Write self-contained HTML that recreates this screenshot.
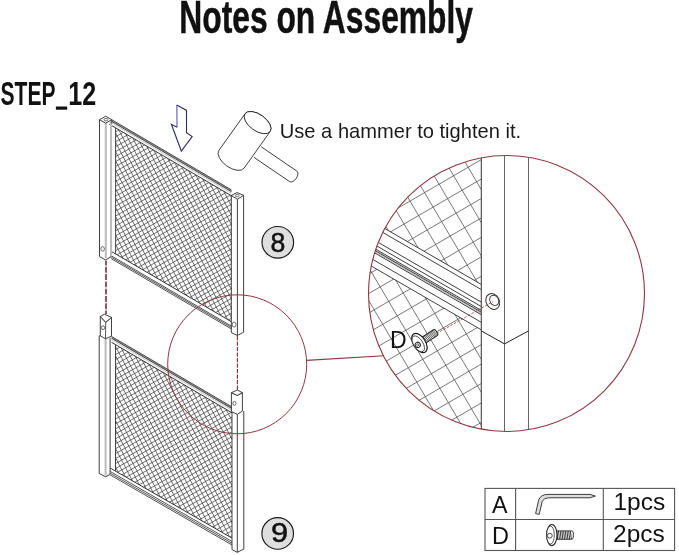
<!DOCTYPE html>
<html><head><meta charset="utf-8"><style>
html,body{margin:0;padding:0;background:#fff;width:679px;height:555px;overflow:hidden}
svg{display:block}
</style></head><body>
<svg width="679" height="555" viewBox="0 0 679 555" style="will-change:transform">
<defs><clipPath id="cU"><polygon points="115.60,127.99 231.50,195.90 231.50,321.73 115.60,253.93"/></clipPath><clipPath id="cL"><polygon points="115.50,344.74 232.00,412.89 232.00,538.09 115.50,471.10"/></clipPath><clipPath id="cB"><circle cx="506.5" cy="293.5" r="138.0"/></clipPath><clipPath id="cBm"><path d="M368.5,155.5H481.3V431.5H368.5Z"/></clipPath><clipPath id="cBa"><polygon points="360.00,140.00 481.30,140.00 481.30,286.45 360.00,216.10"/></clipPath><clipPath id="cBb"><polygon points="360.00,254.10 481.30,324.45 481.30,440.00 360.00,440.00"/></clipPath></defs>
<rect width="679" height="555" fill="#fff"/>
<rect x="55.9" y="106.5" width="11.3" height="3.2" fill="#111"/>
<polyline points="177.00,127.20 176.80,105.10" stroke="#7d7dd0" stroke-width="1.4" fill="none"/>
<polyline points="176.80,105.10 186.50,110.40 186.50,132.70 192.20,136.60 181.30,151.00 171.40,124.30 177.00,127.20" stroke="#2d2d6e" stroke-width="1.1" fill="none" stroke-linejoin="miter"/>
<path d="M261.13,146.73 L296.93,171.13 A6.4 3.6 124.6 0 1 289.67,181.67 L253.87,157.27" fill="#fff" stroke="#2a2a2a" stroke-width="0.9"/>
<path d="M245.05,113.67 L218.95,150.35 A15.4 8.2 35.44 0 0 244.05,168.20 L270.15,131.53 A15.4 8.2 35.44 0 0 245.05,113.67Z" fill="#fff" stroke="#2a2a2a" stroke-width="0.9"/>
<ellipse cx="257.6" cy="122.6" rx="15.4" ry="8.2" transform="rotate(35.44 257.6 122.6)" fill="#fff" stroke="#2a2a2a" stroke-width="0.9"/>
<path d="M-5.02,170.93L218.48,43.45M-2.89,174.67L220.61,47.19M-0.76,178.40L222.74,50.92M1.37,182.14L224.87,54.66M3.50,185.87L227.00,58.39M5.64,189.61L229.13,62.13M7.77,193.34L231.26,65.86M9.90,197.08L233.39,69.60M12.03,200.81L235.52,73.34M14.16,204.55L237.65,77.07M16.29,208.29L239.78,80.81M18.42,212.02L241.91,84.54M20.55,215.76L244.04,88.28M22.68,219.49L246.17,92.01M24.81,223.23L248.31,95.75M26.94,226.96L250.44,99.48M29.07,230.70L252.57,103.22M31.20,234.43L254.70,106.95M33.33,238.17L256.83,110.69M35.46,241.90L258.96,114.42M37.59,245.64L261.09,118.16M39.72,249.37L263.22,121.89M41.85,253.11L265.35,125.63M43.98,256.84L267.48,129.36M46.11,260.58L269.61,133.10M48.24,264.31L271.74,136.83M50.37,268.05L273.87,140.57M52.51,271.78L276.00,144.30M54.64,275.52L278.13,148.04M56.77,279.25L280.26,151.77M58.90,282.99L282.39,155.51M61.03,286.72L284.52,159.24M63.16,290.46L286.65,162.98M65.29,294.19L288.78,166.71M67.42,297.93L290.91,170.45M69.55,301.66L293.05,174.18M71.68,305.40L295.18,177.92M73.81,309.13L297.31,181.65M75.94,312.87L299.44,185.39M78.07,316.60L301.57,189.12M80.20,320.34L303.70,192.86M82.33,324.07L305.83,196.59M84.46,327.81L307.96,200.33M86.59,331.54L310.09,204.06M88.72,335.28L312.22,207.80M90.85,339.01L314.35,211.53M92.98,342.75L316.48,215.27M95.11,346.48L318.61,219.00M97.25,350.22L320.74,222.74M99.38,353.95L322.87,226.47M101.51,357.69L325.00,230.21M103.64,361.42L327.13,233.95M105.77,365.16L329.26,237.68M107.90,368.90L331.39,241.42M110.03,372.63L333.52,245.15M112.16,376.37L335.65,248.89M114.29,380.10L337.79,252.62M116.42,383.84L339.92,256.36M118.55,387.57L342.05,260.09M120.68,391.31L344.18,263.83M122.81,395.04L346.31,267.56M124.94,398.78L348.44,271.30M127.07,402.51L350.57,275.03M230.69,46.91L349.89,274.93M226.88,48.90L346.08,276.92M223.07,50.90L342.27,278.91M219.26,52.89L338.46,280.91M215.45,54.88L334.65,282.90M211.64,56.87L330.84,284.89M207.83,58.86L327.03,286.88M204.01,60.86L323.22,288.87M200.20,62.85L319.41,290.87M196.39,64.84L315.60,292.86M192.58,66.83L311.79,294.85M188.77,68.83L307.98,296.84M184.96,70.82L304.17,298.83M181.15,72.81L300.35,300.83M177.34,74.80L296.54,302.82M173.53,76.79L292.73,304.81M169.72,78.79L288.92,306.80M165.91,80.78L285.11,308.80M162.10,82.77L281.30,310.79M158.29,84.76L277.49,312.78M154.48,86.76L273.68,314.77M150.66,88.75L269.87,316.76M146.85,90.74L266.06,318.76M143.04,92.73L262.25,320.75M139.23,94.72L258.44,322.74M135.42,96.72L254.63,324.73M131.61,98.71L250.82,326.73M127.80,100.70L247.01,328.72M123.99,102.69L243.19,330.71M120.18,104.68L239.38,332.70M116.37,106.68L235.57,334.69M112.56,108.67L231.76,336.69M108.75,110.66L227.95,338.68M104.94,112.65L224.14,340.67M101.13,114.65L220.33,342.66M97.32,116.64L216.52,344.65M93.50,118.63L212.71,346.65M89.69,120.62L208.90,348.64M85.88,122.61L205.09,350.63M82.07,124.61L201.28,352.62M78.26,126.60L197.47,354.62M74.45,128.59L193.66,356.61M70.64,130.58L189.85,358.60M66.83,132.57L186.03,360.59M63.02,134.57L182.22,362.58M59.21,136.56L178.41,364.58M55.40,138.55L174.60,366.57M51.59,140.54L170.79,368.56M47.78,142.54L166.98,370.55M43.97,144.53L163.17,372.55M40.16,146.52L159.36,374.54M36.34,148.51L155.55,376.53M32.53,150.50L151.74,378.52M28.72,152.50L147.93,380.51M24.91,154.49L144.12,382.51M21.10,156.48L140.31,384.50M17.29,158.47L136.50,386.49M13.48,160.47L132.69,388.48M9.67,162.46L128.87,390.47M5.86,164.45L125.06,392.47M2.05,166.44L121.25,394.46M-1.76,168.43L117.44,396.45M-5.57,170.43L113.63,398.44" stroke="#404040" stroke-width="0.75" fill="none" clip-path="url(#cU)"/>
<polygon points="111.70,119.70 231.50,189.90 231.50,191.70 111.70,121.50" fill="#999"/>
<line x1="111.70" y1="119.70" x2="231.50" y2="189.90" stroke="#2a2a2a" stroke-width="0.8" />
<line x1="111.70" y1="121.50" x2="231.50" y2="191.70" stroke="#2a2a2a" stroke-width="0.8" />
<line x1="109.20" y1="121.60" x2="231.50" y2="193.30" stroke="#999" stroke-width="0.6" />
<line x1="109.20" y1="124.10" x2="231.50" y2="195.80" stroke="#333" stroke-width="1.0" />
<line x1="111.30" y1="251.41" x2="231.50" y2="321.73" stroke="#333" stroke-width="1.0" />
<line x1="111.30" y1="255.81" x2="231.50" y2="326.13" stroke="#2a2a2a" stroke-width="0.8" />
<line x1="111.30" y1="257.21" x2="231.50" y2="327.53" stroke="#2a2a2a" stroke-width="0.8" />
<line x1="111.30" y1="258.71" x2="231.50" y2="329.03" stroke="#2a2a2a" stroke-width="0.8" />
<line x1="115.60" y1="127.99" x2="115.60" y2="253.93" stroke="#444" stroke-width="1.0" />
<rect x="104.8" y="123" width="2.0" height="135" fill="#bbb"/>
<rect x="110.0" y="121" width="2.0" height="136" fill="#bbb"/>
<polyline points="99.50,119.70 99.50,256.60 105.60,259.90 111.40,256.60" fill="none" stroke="#2a2a2a" stroke-width="0.9" stroke-linejoin="round" />
<line x1="111.70" y1="119.70" x2="111.70" y2="123.50" stroke="#2a2a2a" stroke-width="0.8" />
<polygon points="99.50,119.70 105.70,116.20 111.70,119.70 105.70,123.20" fill="#fff" stroke="#2a2a2a" stroke-width="0.9" stroke-linejoin="round" />
<ellipse cx="106" cy="119.7" rx="1.9" ry="1.3" fill="none" stroke="#333" stroke-width="0.7"/>
<ellipse cx="102.6" cy="248.9" rx="1.8" ry="2.3" fill="none" stroke="#333" stroke-width="0.7"/>
<polygon points="231.30,195.50 236.90,192.60 243.60,195.30 237.40,199.30" fill="#fff" stroke="#2a2a2a" stroke-width="0.9" stroke-linejoin="round" />
<ellipse cx="237.2" cy="195.6" rx="1.9" ry="1.25" fill="none" stroke="#333" stroke-width="0.7"/>
<polyline points="231.30,195.50 231.30,332.60 237.30,335.50 243.60,332.20 243.60,195.30" fill="none" stroke="#2a2a2a" stroke-width="0.9" stroke-linejoin="round" />
<line x1="237.40" y1="199.30" x2="237.40" y2="335.50" stroke="#2a2a2a" stroke-width="0.9" />
<ellipse cx="234.1" cy="324.6" rx="1.9" ry="2.5" fill="none" stroke="#333" stroke-width="0.7"/>
<path d="M-8.90,386.01L218.37,256.38M-6.77,389.74L220.50,260.12M-4.63,393.48L222.63,263.85M-2.50,397.21L224.76,267.59M-0.37,400.95L226.89,271.32M1.76,404.69L229.02,275.06M3.89,408.42L231.15,278.79M6.02,412.16L233.28,282.53M8.15,415.89L235.41,286.26M10.28,419.63L237.54,290.00M12.41,423.36L239.67,293.73M14.54,427.10L241.80,297.47M16.67,430.83L243.93,301.20M18.80,434.57L246.06,304.94M20.93,438.30L248.19,308.67M23.06,442.04L250.32,312.41M25.19,445.77L252.45,316.14M27.32,449.51L254.58,319.88M29.45,453.24L256.71,323.61M31.58,456.98L258.84,327.35M33.71,460.71L260.98,331.08M35.84,464.45L263.11,334.82M37.97,468.18L265.24,338.55M40.11,471.92L267.37,342.29M42.24,475.65L269.50,346.02M44.37,479.39L271.63,349.76M46.50,483.12L273.76,353.49M48.63,486.86L275.89,357.23M50.76,490.59L278.02,360.97M52.89,494.33L280.15,364.70M55.02,498.06L282.28,368.44M57.15,501.80L284.41,372.17M59.28,505.53L286.54,375.91M61.41,509.27L288.67,379.64M63.54,513.00L290.80,383.38M65.67,516.74L292.93,387.11M67.80,520.47L295.06,390.85M69.93,524.21L297.19,394.58M72.06,527.94L299.32,398.32M74.19,531.68L301.45,402.05M76.32,535.41L303.58,405.79M78.45,539.15L305.72,409.52M80.58,542.88L307.85,413.26M82.71,546.62L309.98,416.99M84.85,550.35L312.11,420.73M86.98,554.09L314.24,424.46M89.11,557.82L316.37,428.20M91.24,561.56L318.50,431.93M93.37,565.30L320.63,435.67M95.50,569.03L322.76,439.40M97.63,572.77L324.89,443.14M99.76,576.50L327.02,446.87M101.89,580.24L329.15,450.61M104.02,583.97L331.28,454.34M106.15,587.71L333.41,458.08M108.28,591.44L335.54,461.81M110.41,595.18L337.67,465.55M112.54,598.91L339.80,469.28M114.67,602.65L341.93,473.02M116.80,606.38L344.06,476.75M118.93,610.12L346.19,480.49M121.06,613.85L348.32,484.22M123.19,617.59L350.46,487.96M125.32,621.32L352.59,491.69M127.45,625.06L354.72,495.43M235.15,259.63L356.36,491.49M231.34,261.63L352.55,493.48M227.53,263.62L348.74,495.48M223.72,265.61L344.93,497.47M219.91,267.60L341.12,499.46M216.10,269.59L337.31,501.45M212.29,271.59L333.50,503.45M208.48,273.58L329.69,505.44M204.66,275.57L325.88,507.43M200.85,277.56L322.07,509.42M197.04,279.56L318.26,511.41M193.23,281.55L314.45,513.41M189.42,283.54L310.63,515.40M185.61,285.53L306.82,517.39M181.80,287.52L303.01,519.38M177.99,289.52L299.20,521.38M174.18,291.51L295.39,523.37M170.37,293.50L291.58,525.36M166.56,295.49L287.77,527.35M162.75,297.48L283.96,529.34M158.94,299.48L280.15,531.34M155.13,301.47L276.34,533.33M151.32,303.46L272.53,535.32M147.50,305.45L268.72,537.31M143.69,307.45L264.91,539.30M139.88,309.44L261.10,541.30M136.07,311.43L257.29,543.29M132.26,313.42L253.47,545.28M128.45,315.41L249.66,547.27M124.64,317.41L245.85,549.27M120.83,319.40L242.04,551.26M117.02,321.39L238.23,553.25M113.21,323.38L234.42,555.24M109.40,325.38L230.61,557.23M105.59,327.37L226.80,559.23M101.78,329.36L222.99,561.22M97.97,331.35L219.18,563.21M94.16,333.34L215.37,565.20M90.34,335.34L211.56,567.20M86.53,337.33L207.75,569.19M82.72,339.32L203.94,571.18M78.91,341.31L200.13,573.17M75.10,343.30L196.31,575.16M71.29,345.30L192.50,577.16M67.48,347.29L188.69,579.15M63.67,349.28L184.88,581.14M59.86,351.27L181.07,583.13M56.05,353.27L177.26,585.12M52.24,355.26L173.45,587.12M48.43,357.25L169.64,589.11M44.62,359.24L165.83,591.10M40.81,361.23L162.02,593.09M36.99,363.23L158.21,595.09M33.18,365.22L154.40,597.08M29.37,367.21L150.59,599.07M25.56,369.20L146.78,601.06M21.75,371.20L142.97,603.05M17.94,373.19L139.15,605.05M14.13,375.18L135.34,607.04M10.32,377.17L131.53,609.03M6.51,379.16L127.72,611.02M2.70,381.16L123.91,613.02M-1.11,383.15L120.10,615.01M-4.92,385.14L116.29,617.00M-8.73,387.13L112.48,618.99" stroke="#404040" stroke-width="0.75" fill="none" clip-path="url(#cL)"/>
<polygon points="111.50,336.40 232.00,406.89 232.00,408.69 111.50,338.20" fill="#999"/>
<line x1="111.50" y1="336.40" x2="232.00" y2="406.89" stroke="#2a2a2a" stroke-width="0.8" />
<line x1="111.50" y1="338.20" x2="232.00" y2="408.69" stroke="#2a2a2a" stroke-width="0.8" />
<line x1="111.50" y1="339.80" x2="232.00" y2="410.29" stroke="#999" stroke-width="0.6" />
<line x1="111.50" y1="342.30" x2="232.00" y2="412.79" stroke="#333" stroke-width="1.0" />
<line x1="110.20" y1="468.05" x2="232.00" y2="538.09" stroke="#333" stroke-width="1.0" />
<line x1="110.20" y1="471.45" x2="232.00" y2="541.49" stroke="#2a2a2a" stroke-width="0.8" />
<line x1="110.20" y1="473.25" x2="232.00" y2="543.29" stroke="#2a2a2a" stroke-width="0.8" />
<line x1="110.20" y1="474.95" x2="232.00" y2="544.99" stroke="#2a2a2a" stroke-width="0.8" />
<line x1="115.50" y1="344.74" x2="115.50" y2="471.10" stroke="#444" stroke-width="1.0" />
<rect x="104.6" y="338.5" width="2.0" height="137" fill="#bbb"/>
<polyline points="99.20,335.80 99.20,473.50 105.60,476.80 110.10,474.30 110.10,338.00" fill="none" stroke="#2a2a2a" stroke-width="0.9" stroke-linejoin="round" />
<line x1="99.20" y1="335.80" x2="100.30" y2="335.80" stroke="#2a2a2a" stroke-width="0.8" />
<polygon points="100.30,316.40 100.30,335.80 105.40,338.70 111.50,336.20 111.50,317.40 105.70,322.30" fill="#fff" stroke="#2a2a2a" stroke-width="0.9" stroke-linejoin="round" />
<polygon points="100.30,316.40 104.60,314.20 111.50,317.40 105.70,322.30" fill="#fff" stroke="#2a2a2a" stroke-width="0.9" stroke-linejoin="round" />
<line x1="105.70" y1="322.30" x2="105.50" y2="338.70" stroke="#2a2a2a" stroke-width="0.8" />
<ellipse cx="103.0" cy="327.7" rx="1.6" ry="2.0" fill="none" stroke="#333" stroke-width="0.7"/>
<polyline points="232.00,411.60 232.00,549.60 237.30,552.30 243.80,549.10 243.80,411.10" fill="none" stroke="#2a2a2a" stroke-width="0.9" stroke-linejoin="round" />
<line x1="237.30" y1="414.30" x2="237.30" y2="552.30" stroke="#2a2a2a" stroke-width="0.9" />
<polygon points="231.40,392.70 231.40,411.60 237.30,414.30 242.40,411.10 242.40,392.70 237.30,395.40" fill="#fff" stroke="#2a2a2a" stroke-width="0.9" stroke-linejoin="round" />
<polygon points="231.40,392.70 237.30,390.00 242.40,392.70 237.30,395.40" fill="#fff" stroke="#2a2a2a" stroke-width="0.9" stroke-linejoin="round" />
<ellipse cx="234.4" cy="403.3" rx="1.6" ry="2.0" fill="none" stroke="#333" stroke-width="0.7"/>
<line x1="106.00" y1="260.50" x2="106.00" y2="314.00" stroke="#6a2830" stroke-width="1.5" stroke-dasharray="5.9 1.4" stroke-dashoffset="1"/>
<line x1="237.40" y1="336.00" x2="237.40" y2="390.00" stroke="#8a3440" stroke-width="1.15" stroke-dasharray="4.2 1.3"/>
<circle cx="237.2" cy="364.3" r="69.5" fill="none" stroke="#8e3840" stroke-width="1.0"/>
<line x1="306.40" y1="360.40" x2="384.00" y2="355.80" stroke="#8e3840" stroke-width="1.1" />
<g clip-path="url(#cB)">
<path d="M236.75,185.31L462.35,54.01M245.20,199.83L470.80,68.53M253.65,214.35L479.25,83.05M262.10,228.87L487.70,97.57M270.55,243.39L496.15,112.09M279.00,257.91L504.61,126.61M287.45,272.43L513.06,141.13M295.90,286.95L521.51,155.65M304.35,301.47L529.96,170.17M312.81,315.99L538.41,184.69M321.26,330.51L546.86,199.21M329.71,345.03L555.31,213.73M338.16,359.55L563.76,228.25M346.61,374.07L572.21,242.77M355.06,388.59L580.66,257.28M363.51,403.11L589.11,271.80M371.96,417.63L597.56,286.32M380.41,432.15L606.01,300.84M388.86,446.67L614.46,315.36M482.03,58.46L614.51,283.37M467.55,66.99L600.04,291.90M453.08,75.51L585.56,300.42M438.60,84.04L571.09,308.95M424.13,92.57L556.61,317.48M409.65,101.09L542.14,326.00M395.18,109.62L527.66,334.53M380.70,118.15L513.19,343.06M366.23,126.67L498.71,351.58M351.75,135.20L484.23,360.11M337.28,143.73L469.76,368.64M322.80,152.25L455.28,377.16M308.32,160.78L440.81,385.69M293.85,169.31L426.33,394.22M279.37,177.83L411.86,402.74M264.90,186.36L397.38,411.27M250.42,194.89L382.91,419.80M235.95,203.41L368.43,428.32M221.47,211.94L353.96,436.85" stroke="#555" stroke-width="0.8" fill="none" clip-path="url(#cBa)"/>
<path d="M231.47,276.24L457.07,144.94M239.92,290.76L465.52,159.46M248.37,305.28L473.98,173.98M256.82,319.80L482.43,188.50M265.27,334.32L490.88,203.02M273.72,348.84L499.33,217.54M282.18,363.36L507.78,232.06M290.63,377.88L516.23,246.58M299.08,392.40L524.68,261.10M307.53,406.92L533.13,275.62M315.98,421.44L541.58,290.14M324.43,435.96L550.03,304.66M332.88,450.48L558.48,319.18M341.33,465.00L566.93,333.70M349.78,479.52L575.38,348.22M358.23,494.04L583.83,362.74M366.68,508.56L592.29,377.26M375.13,523.08L600.74,391.78M383.58,537.60L609.19,406.30M480.51,159.35L613.00,384.26M466.04,167.88L598.52,392.79M451.56,176.41L584.05,401.32M437.09,184.93L569.57,409.84M422.61,193.46L555.09,418.37M408.14,201.99L540.62,426.90M393.66,210.51L526.14,435.42M379.18,219.04L511.67,443.95M364.71,227.57L497.19,452.48M350.23,236.09L482.72,461.00M335.76,244.62L468.24,469.53M321.28,253.15L453.77,478.06M306.81,261.67L439.29,486.58M292.33,270.20L424.82,495.11M277.86,278.73L410.34,503.64M263.38,287.25L395.87,512.16M248.91,295.78L381.39,520.69M234.43,304.31L366.91,529.22M219.96,312.83L352.44,537.74" stroke="#555" stroke-width="0.8" fill="none" clip-path="url(#cBb)"/>
<polygon points="360.00,214.10 481.30,284.45 481.30,329.85 360.00,259.50" fill="#fff"/>
<line x1="360.00" y1="214.10" x2="481.30" y2="284.45" stroke="#2a2a2a" stroke-width="0.9" />
<line x1="360.00" y1="219.20" x2="481.30" y2="289.55" stroke="#2a2a2a" stroke-width="0.9" />
<line x1="360.00" y1="231.80" x2="481.30" y2="302.15" stroke="#2a2a2a" stroke-width="0.9" />
<line x1="360.00" y1="236.20" x2="481.30" y2="306.55" stroke="#2a2a2a" stroke-width="0.9" />
<line x1="360.00" y1="240.00" x2="481.30" y2="310.35" stroke="#2a2a2a" stroke-width="0.9" />
<line x1="360.00" y1="241.10" x2="481.30" y2="311.45" stroke="#777" stroke-width="0.5" />
<line x1="360.00" y1="241.90" x2="481.30" y2="312.25" stroke="#2a2a2a" stroke-width="0.9" />
<line x1="360.00" y1="243.10" x2="481.30" y2="313.45" stroke="#777" stroke-width="0.5" />
<line x1="360.00" y1="244.40" x2="481.30" y2="314.75" stroke="#2a2a2a" stroke-width="0.9" />
<line x1="360.00" y1="252.00" x2="481.30" y2="322.35" stroke="#2a2a2a" stroke-width="0.9" />
<line x1="360.00" y1="259.50" x2="481.30" y2="329.85" stroke="#2a2a2a" stroke-width="0.9" />
</g>
<g clip-path="url(#cB)">
<rect x="481.3" y="150" width="47.2" height="290" fill="#fff"/>
<line x1="481.30" y1="150.00" x2="481.30" y2="440.00" stroke="#444" stroke-width="1.1" />
<line x1="504.50" y1="150.00" x2="504.50" y2="440.00" stroke="#555" stroke-width="0.9" />
<line x1="528.50" y1="150.00" x2="528.50" y2="440.00" stroke="#555" stroke-width="0.9" />
<polyline points="481.30,330.90 504.50,343.90 528.50,330.90" fill="none" stroke="#222" stroke-width="1.0" stroke-linejoin="round" />
</g>
<ellipse cx="492.8" cy="301.5" rx="6.6" ry="8.2" transform="rotate(-28 492.8 301.5)" fill="#fff" stroke="#333" stroke-width="1.0"/>
<ellipse cx="494.2" cy="300.4" rx="4.3" ry="5.4" transform="rotate(-28 494.2 300.4)" fill="#fff" stroke="#333" stroke-width="0.9"/>
<line x1="436.50" y1="333.50" x2="493.00" y2="301.60" stroke="#8e3840" stroke-width="0.8" stroke-dasharray="2.5 1.5"/>
<g transform="translate(418.6,343.6) rotate(-33)">
<rect x="3" y="-3.5" width="18.5" height="7.0" fill="#eee" stroke="#222" stroke-width="1.0" rx="1.5"/>
<path d="M6.0,-3.3 l0.8,6.6 M7.5,-3.3 l0.8,6.6 M9.0,-3.3 l0.8,6.6 M10.5,-3.3 l0.8,6.6 M12.0,-3.3 l0.8,6.6 M13.5,-3.3 l0.8,6.6 M15.0,-3.3 l0.8,6.6 M16.5,-3.3 l0.8,6.6 M18.0,-3.3 l0.8,6.6 M19.5,-3.3 l0.8,6.6 " stroke="#333" stroke-width="0.7" fill="none"/>
<ellipse cx="1.0" cy="0" rx="6.0" ry="10.8" fill="#fff" stroke="#1a1a1a" stroke-width="1.2"/>
<ellipse cx="-0.4" cy="0" rx="4.6" ry="9.0" fill="#fff" stroke="#333" stroke-width="0.8"/>
<circle cx="-1.4" cy="0.6" r="2.6" fill="#fff" stroke="#222" stroke-width="1.0"/>
<circle cx="-1.4" cy="0.6" r="1.1" fill="#fff" stroke="#333" stroke-width="0.7"/>
</g>
<circle cx="506.5" cy="293.5" r="138.0" fill="none" stroke="#8e3840" stroke-width="1.1"/>
<circle cx="277.8" cy="242.3" r="15.8" fill="#dedede" stroke="#1a1a1a" stroke-width="1.15"/>
<circle cx="277.7" cy="533.4" r="15.8" fill="#dedede" stroke="#1a1a1a" stroke-width="1.15"/>
<rect x="485.0" y="488.4" width="189.6" height="62.1" fill="#fff" stroke="#555" stroke-width="1.1"/>
<line x1="485.00" y1="519.50" x2="674.60" y2="519.50" stroke="#555" stroke-width="1.1" />
<line x1="515.60" y1="488.40" x2="515.60" y2="550.50" stroke="#555" stroke-width="1.1" />
<line x1="603.30" y1="488.40" x2="603.30" y2="550.50" stroke="#555" stroke-width="1.1" />
<path d="M535.6,513.6 L538.6,500.2 Q540.6,494.4 548,494.4 L590,494.4 L595.4,496.1 L590,497.8 L548.5,497.8 Q543.8,497.8 542.2,501.5 L539.2,514.4 Z" fill="#ddd" stroke="#2a2a2a" stroke-width="0.9" stroke-linejoin="round"/>
<g transform="translate(550.8,535.1)">
<rect x="4" y="-4.2" width="18.5" height="8.4" rx="2" fill="#fff" stroke="#222" stroke-width="0.9"/>
<path d="M6.0,-4 l0.9,8 M7.7,-4 l0.9,8 M9.4,-4 l0.9,8 M11.1,-4 l0.9,8 M12.8,-4 l0.9,8 M14.5,-4 l0.9,8 M16.2,-4 l0.9,8 M17.9,-4 l0.9,8 M19.6,-4 l0.9,8 " stroke="#222" stroke-width="0.9" fill="none"/>
<ellipse cx="1.0" cy="0" rx="5.2" ry="10.6" fill="#fff" stroke="#222" stroke-width="1.1"/>
<ellipse cx="-0.3" cy="0" rx="3.8" ry="9.0" fill="#fff" stroke="#333" stroke-width="0.8"/>
<circle cx="-1.0" cy="0.6" r="2.4" fill="#fff" stroke="#333" stroke-width="0.9"/>
</g>
<text transform="translate(179.3,32.8) scale(0.691,1)" font-family="Liberation Sans, sans-serif" font-size="46.0" font-weight="bold" fill="#111" text-anchor="start" stroke="#111" stroke-width="0.5" stroke-linejoin="round">Notes on Assembly</text>
<text transform="translate(0.5,104.5) scale(0.65,1)" font-family="Liberation Sans, sans-serif" font-size="32.4" font-weight="bold" fill="#111" text-anchor="start">STEP</text>
<text transform="translate(68.2,104.5) scale(0.775,1)" font-family="Liberation Sans, sans-serif" font-size="32.4" font-weight="bold" fill="#111" text-anchor="start">12</text>
<text transform="translate(279.8,137.6) scale(1.005,1)" font-family="Liberation Sans, sans-serif" font-size="20" font-weight="normal" fill="#1a1a1a" text-anchor="start">Use a hammer to tighten it.</text>
<text transform="translate(390.0,348.4) scale(1.0,1)" font-family="Liberation Sans, sans-serif" font-size="23" font-weight="normal" fill="#111" text-anchor="start">D</text>
<text transform="translate(277.8,251.5) scale(0.97,1)" font-family="Liberation Sans, sans-serif" font-size="27.5" fill="#111" stroke="#111" stroke-width="0.5" text-anchor="middle">8</text>
<text transform="translate(279.5,542.3) scale(1.08,1)" font-family="Liberation Sans, sans-serif" font-size="28.5" fill="#111" stroke="#111" stroke-width="0.5" text-anchor="middle">9</text>
<text transform="translate(492.0,513.0) scale(0.97,1)" font-family="Liberation Sans, sans-serif" font-size="24" font-weight="normal" fill="#111" text-anchor="start">A</text>
<text transform="translate(492.0,543.6) scale(1.0,1)" font-family="Liberation Sans, sans-serif" font-size="23.5" font-weight="normal" fill="#111" text-anchor="start">D</text>
<text transform="translate(613.4,510.0) scale(1.0,1)" font-family="Liberation Sans, sans-serif" font-size="24.5" font-weight="normal" fill="#111" text-anchor="start">1pcs</text>
<text transform="translate(613.0,542.1) scale(1.0,1)" font-family="Liberation Sans, sans-serif" font-size="24.5" font-weight="normal" fill="#111" text-anchor="start">2pcs</text>
</svg></body></html>
